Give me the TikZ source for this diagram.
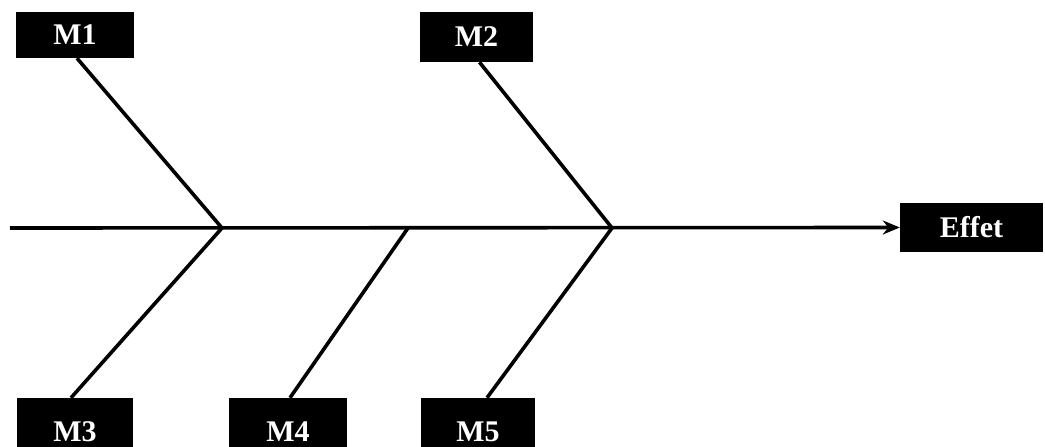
\documentclass[tikz,border=0pt]{standalone}
\usepackage{fontspec}
\setmainfont{Liberation Serif}
\usetikzlibrary{arrows.meta}
\tikzset{
  cause/.style={fill=black, text=white, font=\bfseries\fontsize{30}{33}\selectfont,
    inner sep=0pt, anchor=center},
  bone/.style={line width=3.6pt, line cap=butt},
}
\begin{document}
\begin{tikzpicture}[x=1pt,y=-1pt]
  \useasboundingbox (0,0) rectangle (1045,447);
  % category boxes (the lower row runs past the bottom edge)
  \node[cause, minimum width=118pt, minimum height=46pt] (M1) at (75,35) {M1};
  \node[cause, minimum width=113pt, minimum height=50pt] (M2) at (476.5,37) {M2};
  \node[cause, minimum width=116pt, minimum height=68pt] (M3) at (75,432) {M3};
  \node[cause, minimum width=118pt, minimum height=68pt] (M4) at (288,432) {M4};
  \node[cause, minimum width=114pt, minimum height=68pt] (M5) at (478,432) {M5};
  \node[cause, minimum width=143pt, minimum height=49pt] (E) at (971.5,227.5) {Effet};
  % spine and junctions
  \coordinate (tail) at (10,228);
  \coordinate (j1) at (222,228);
  \coordinate (j2) at (408,228);
  \coordinate (j3) at (612,228);
  \draw[bone, -{Stealth[length=17pt,width=14pt]}] (tail) -- (E.west);
  % ribs
  \draw[bone] (j1) -- ([xshift=2pt]M1.south);
  \draw[bone] (j3) -- ([xshift=3pt]M2.south);
  \draw[bone] (j1) -- ([xshift=-4pt]M3.north);
  \draw[bone] (j2) -- ([xshift=2pt]M4.north);
  \draw[bone] (j3) -- ([xshift=9pt]M5.north);
\end{tikzpicture}
\end{document}
